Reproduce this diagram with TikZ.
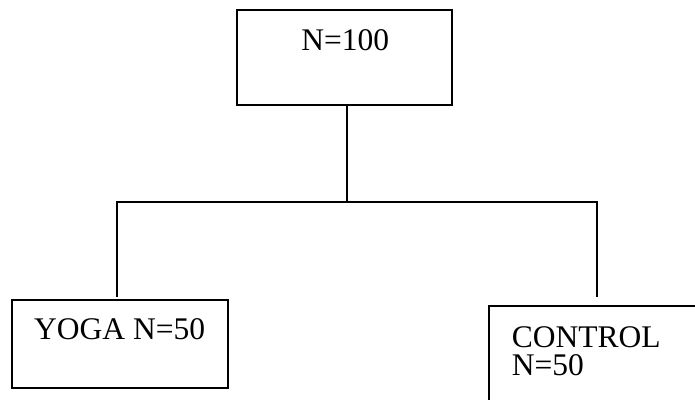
\documentclass[tikz,border=0pt]{standalone}
\usepackage{fontspec}
\setmainfont{Liberation Serif}
\begin{document}
\begin{tikzpicture}[x=1pt,y=-1pt,
  box/.style={draw, line width=2pt, inner sep=0pt, outer sep=0pt},
  conn/.style={line width=2pt},
  lbl/.style={inner sep=0pt, font=\fontsize{31.5}{34}\selectfont},
  lblsmall/.style={inner sep=0pt, align=left, font=\fontsize{31.5}{28}\selectfont}]
\useasboundingbox (0,0) rectangle (695,399);
\clip (0,0) rectangle (695,399);
% boxes
\node[box, minimum width=215.5pt, minimum height=95.5pt] (top) at (344.3,57.25) {};
\node[lbl, anchor=base] (toptext) at (345.3,50) {N=100};
\node[box, minimum width=216pt, minimum height=87.7pt] (yoga) at (119.7,343.8) {};
\node[lbl, anchor=base west] (yogatext) at (34,339.3) {YOGA N=50};
\node[box, minimum width=216pt, minimum height=100pt] (ctrl) at (597.3,356) {};
\node[lblsmall, anchor=north west] (ctrltext) at (511.7,326.5) {CONTROL\\N=50};
% connectors
\coordinate (split) at (346.7,202);
\coordinate (yogaend) at (117,297);
\coordinate (ctrlend) at (597,297);
\draw[conn] (top.south -| split) -- (split);
\draw[conn] (yogaend) |- (split) -| (ctrlend);
\end{tikzpicture}
\end{document}
